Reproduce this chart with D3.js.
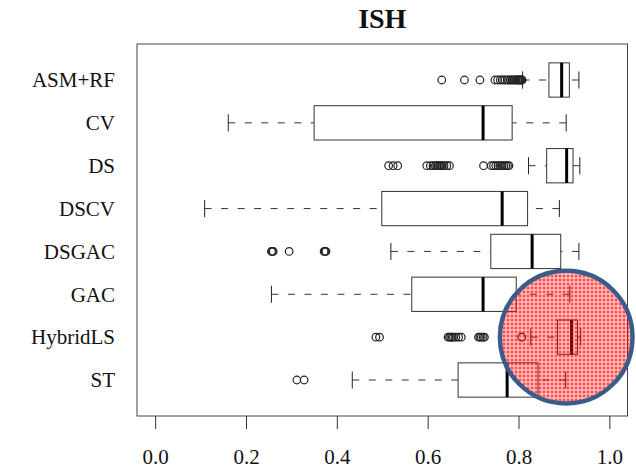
<!DOCTYPE html>
<html>
<head>
<meta charset="utf-8">
<script src="https://cdn.jsdelivr.net/npm/d3@7"></script>
<style>
    body { margin: 0; background: #fff; }
    text { font-family: "Liberation Serif", "Times New Roman", serif; }
</style>
</head>
<body>
<div id="my_dataviz"></div>
<script>
// methods, top to bottom
var groups = ["ASM+RF", "CV", "DS", "DSCV", "DSGAC", "GAC", "HybridLS", "ST"];

// five number summaries
var lowWhisker  = [0.809, 0.161, 0.822, 0.109, 0.519, 0.256, 0.827, 0.434];
var q1          = [0.867, 0.350, 0.862, 0.499, 0.739, 0.565, 0.886, 0.667];
var median      = [0.895, 0.722, 0.906, 0.764, 0.830, 0.722, 0.917, 0.775];
var q3          = [0.912, 0.786, 0.920, 0.820, 0.893, 0.795, 0.930, 0.843];
var highWhisker = [0.933, 0.905, 0.935, 0.890, 0.933, 0.913, 0.937, 0.904];

var outliers = [
    [0.631, 0.681, 0.715, 0.748, 0.754, 0.760, 0.765, 0.770, 0.775, 0.778, 0.782, 0.785,
     0.788, 0.791, 0.794, 0.797, 0.799, 0.801, 0.803, 0.805, 0.807, 0.808],
    [],
    [0.514, 0.524, 0.534, 0.598, 0.606, 0.612, 0.617, 0.620, 0.623, 0.626, 0.629, 0.632,
     0.636, 0.642, 0.648, 0.723, 0.740, 0.745, 0.750, 0.755, 0.760, 0.764, 0.768, 0.772,
     0.776, 0.779],
    [],
    [0.256, 0.258, 0.260, 0.295, 0.372, 0.374, 0.376],
    [],
    [0.486, 0.494, 0.645, 0.648, 0.651, 0.654, 0.657, 0.662, 0.668, 0.674, 0.712, 0.715,
     0.718, 0.722, 0.725, 0.807],
    [0.312, 0.328]
];

var xTicks = [0.0, 0.2, 0.4, 0.6, 0.8, 1.0];

var width = 636,
    height = 470;

var x = d3.scaleLinear()
    .domain([-0.04, 1.04])
    .range([137, 627.5]);

// group index -> vertical centre, first group on top
var y = d3.scaleLinear()
    .domain([-0.84, 7.84])
    .range([44, 416]);

var unit = y(1) - y(0),
    halfBox = 0.4 * unit,
    halfCap = 0.5 * halfBox;

var svg = d3.select("#my_dataviz").append("svg")
    .attr("width", width)
    .attr("height", height);

var rows = groups.map(function (g, i) {
    return {name: g, i: i, lw: lowWhisker[i], q1: q1[i], med: median[i],
        q3: q3[i], hw: highWhisker[i], out: outliers[i]};
});

var g = svg.append("g");

var box = g.selectAll("g.box")
    .data(rows)
    .enter().append("g")
    .attr("class", "box");

// whiskers, dashed from the end towards the box
box.append("line")
    .attr("x1", function (d) { return x(d.lw); })
    .attr("x2", function (d) { return x(d.q1); })
    .attr("y1", function (d) { return y(d.i); })
    .attr("y2", function (d) { return y(d.i); })
    .attr("stroke", "#333")
    .attr("stroke-dasharray", "7,9.5");

box.append("line")
    .attr("x1", function (d) { return x(d.hw); })
    .attr("x2", function (d) { return x(d.q3); })
    .attr("y1", function (d) { return y(d.i); })
    .attr("y2", function (d) { return y(d.i); })
    .attr("stroke", "#333")
    .attr("stroke-dasharray", "7,9.5");

// staples
["lw", "hw"].forEach(function (k) {
    box.append("line")
        .attr("x1", function (d) { return x(d[k]); })
        .attr("x2", function (d) { return x(d[k]); })
        .attr("y1", function (d) { return y(d.i) - halfCap; })
        .attr("y2", function (d) { return y(d.i) + halfCap; })
        .attr("stroke", "#222");
});

box.append("rect")
    .attr("x", function (d) { return x(d.q1); })
    .attr("width", function (d) { return x(d.q3) - x(d.q1); })
    .attr("y", function (d) { return y(d.i) - halfBox; })
    .attr("height", 2 * halfBox)
    .attr("fill", "white")
    .attr("stroke", "#333");

box.append("line")
    .attr("x1", function (d) { return x(d.med); })
    .attr("x2", function (d) { return x(d.med); })
    .attr("y1", function (d) { return y(d.i) - halfBox; })
    .attr("y2", function (d) { return y(d.i) + halfBox; })
    .attr("stroke", "black")
    .attr("stroke-width", 3);

box.selectAll("circle")
    .data(function (d) { return d.out.map(function (v) { return {v: v, i: d.i}; }); })
    .enter().append("circle")
    .attr("cx", function (d) { return x(d.v); })
    .attr("cy", function (d) { return y(d.i); })
    .attr("r", 3.8)
    .attr("fill", "none")
    .attr("stroke", "#222")
    .attr("stroke-width", 1.2);

// frame
svg.append("rect")
    .attr("x", x.range()[0])
    .attr("y", y.range()[0])
    .attr("width", x.range()[1] - x.range()[0])
    .attr("height", y.range()[1] - y.range()[0])
    .attr("fill", "none")
    .attr("stroke", "#444");

// x axis
var xAxis = svg.append("g")
    .attr("transform", "translate(0," + y.range()[1] + ")")
    .call(d3.axisBottom(x)
        .tickValues(xTicks)
        .tickSize(13)
        .tickPadding(20)
        .tickFormat(d3.format(".1f")));
xAxis.select(".domain").remove();
xAxis.selectAll("line").attr("stroke", "#333");
xAxis.selectAll("text")
    .attr("fill", "#111")
    .style("font-family", "'Liberation Serif', serif")
    .style("font-size", "21px");

// group names
svg.selectAll("text.lab")
    .data(rows)
    .enter().append("text")
    .attr("class", "lab")
    .attr("x", 115)
    .attr("y", function (d) { return y(d.i); })
    .attr("dy", "0.35em")
    .attr("text-anchor", "end")
    .style("font-size", "21px")
    .attr("fill", "#111")
    .text(function (d) { return d.name; });

svg.append("text")
    .attr("x", (x.range()[0] + x.range()[1]) / 2)
    .attr("y", 27.5)
    .attr("text-anchor", "middle")
    .style("font-size", "28px")
    .style("font-weight", "bold")
    .attr("fill", "#111")
    .text("ISH");

// highlight circle over the HybridLS row
var defs = svg.append("defs");
var pat = defs.append("pattern")
    .attr("id", "hatch")
    .attr("patternUnits", "userSpaceOnUse")
    .attr("width", 4)
    .attr("height", 4);
// red tile with see-through crosses, so the lines below still show
pat.append("path")
    .attr("d", "M0,0H1.5V1.5H0Z M2.5,0H4V1.5H2.5Z M0,2.5H1.5V4H0Z M2.5,2.5H4V4H2.5Z")
    .attr("fill", "#ff0000")
    .attr("fill-opacity", 0.7);
pat.append("path")
    .attr("d", "M1.5,0H2.5V4H1.5Z M0,1.5H1.5V2.5H0Z M2.5,1.5H4V2.5H2.5Z")
    .attr("fill", "#ff0000")
    .attr("fill-opacity", 0.12);

svg.append("circle")
    .attr("cx", x(0.905))
    .attr("cy", y(6))
    .attr("r", x(0.905 + 0.146) - x(0.905))
    .attr("fill", "url(#hatch)")
    .attr("stroke", "#3b5b8b")
    .attr("stroke-width", 4.5);
</script>
</body>
</html>
